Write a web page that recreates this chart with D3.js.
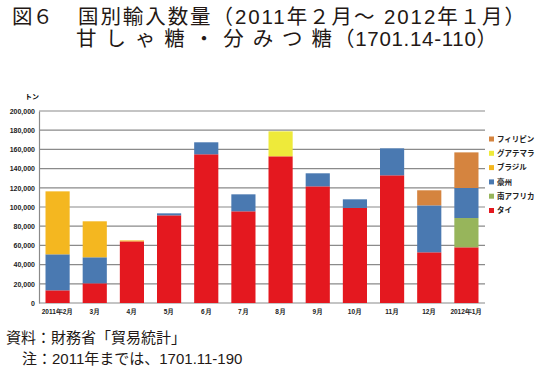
<!DOCTYPE html>
<html>
<head>
<meta charset="utf-8">
<script src="https://cdn.jsdelivr.net/npm/d3@7"></script>
<style>
  body { margin: 0; background: #fff; }
  svg { display: block; font-family: "Noto Sans CJK JP", "Noto Sans", sans-serif; }
  .grid line { stroke: #8a8a8a; stroke-width: 1.2; }
  .tick text { font-size: 7px; font-weight: bold; fill: #222; }
  .title { font-family: "Liberation Sans", "Noto Sans CJK JP", sans-serif; font-size: 20.5px; fill: #231815; }
  .note { font-family: "Liberation Sans", "Noto Sans CJK JP", sans-serif; font-size: 15px; fill: #231815; }
</style>
</head>
<body>
<svg id="chart" width="536" height="376"></svg>
<script>
// months on the x axis
const months = ["2011年2月", "3月", "4月", "5月", "6月", "7月", "8月", "9月", "10月", "11月", "12月", "2012年1月"];

// series (tons), stacked bottom to top
const thai        = [13200, 20500, 64200, 91300, 154900, 95500, 152800, 121500, 99000, 133000, 52800, 58000];
const southAfrica = [0, 0, 0, 0, 0, 0, 0, 0, 0, 0, 0, 30500];
const australia   = [37500, 27100, 0, 2100, 12500, 17700, 0, 13600, 9000, 28100, 48900, 31300];
const brazil      = [65600, 37500, 1000, 0, 0, 0, 0, 0, 0, 0, 0, 0];
const guatemala   = [0, 0, 0, 0, 0, 0, 26000, 0, 0, 0, 0, 0];
const philippines = [0, 0, 0, 0, 0, 0, 0, 0, 0, 0, 15700, 37100];

const seriesNames = ["タイ", "南アフリカ", "豪州", "ブラジル", "グアテマラ", "フィリピン"];
const seriesColors = ["#e4181f", "#97b55b", "#4a79b1", "#f4b720", "#eeea3a", "#d5843f"];
const yTicks = [0, 20000, 40000, 60000, 80000, 100000, 120000, 140000, 160000, 180000, 200000];

const rows = months.map((m, i) => ({
    month: m,
    "タイ": thai[i], "南アフリカ": southAfrica[i], "豪州": australia[i],
    "ブラジル": brazil[i], "グアテマラ": guatemala[i], "フィリピン": philippines[i]
}));

const svg = d3.select("#chart");
const plotLeft = 39, plotRight = 485, plotTop = 111, plotBottom = 303;

const x = d3.scaleBand().domain(months).range([plotLeft, plotRight]).paddingInner(0.35).paddingOuter(0.175);
const y = d3.scaleLinear().domain([0, 200000]).range([plotBottom, plotTop]);
const color = d3.scaleOrdinal().domain(seriesNames).range(seriesColors);

// title, line 1
const t1 = svg.append("text").attr("class", "title").attr("y", 24);
t1.append("tspan").attr("x", 12).text("図６");
t1.append("tspan").attr("x", 78).attr("textLength", 447).attr("lengthAdjust", "spacing")
    .text("国別輸入数量（2011年２月～ 2012年１月）");
// title, line 2 (kanji part is spaced out)
const t2 = svg.append("text").attr("class", "title").attr("y", 46);
t2.append("tspan").attr("x", 76).attr("textLength", 256).attr("lengthAdjust", "spacing")
    .text("甘しゃ糖・分みつ糖");
t2.append("tspan").attr("x", 334).attr("textLength", 163).attr("lengthAdjust", "spacing")
    .text("（1701.14-110）");

// grid
svg.append("g").attr("class", "grid")
    .selectAll("line").data(yTicks).enter()
    .append("line")
    .attr("x1", plotLeft).attr("x2", plotRight)
    .attr("y1", d => y(d)).attr("y2", d => y(d));

// bars
const stack = d3.stack().keys(seriesNames)(rows);
svg.append("g").selectAll("g").data(stack).enter()
    .append("g").attr("fill", d => color(d.key))
    .selectAll("rect").data(d => d).enter()
    .append("rect")
    .attr("x", d => x(d.data.month))
    .attr("width", x.bandwidth())
    .attr("y", d => y(d[1]))
    .attr("height", d => y(d[0]) - y(d[1]));

// axes
const yAxis = svg.append("g").attr("transform", `translate(${plotLeft},0)`)
    .call(d3.axisLeft(y).tickValues(yTicks).tickSize(0).tickPadding(4).tickFormat(d3.format(",")));
yAxis.select(".domain").attr("stroke", "#8a8a8a").attr("stroke-width", 1.2);

const xAxis = svg.append("g").attr("transform", `translate(0,${plotBottom})`)
    .call(d3.axisBottom(x).tickSize(0).tickPadding(6));
xAxis.select(".domain").remove();
xAxis.selectAll(".tick text").style("font-size", "6.5px");

svg.append("text").attr("x", 25).attr("y", 99)
    .style("font-size", "7px").style("font-weight", "bold").text("トン");

// legend
const legend = svg.append("g").selectAll("g").data(seriesNames.slice().reverse()).enter()
    .append("g").attr("transform", (d, i) => `translate(489,${139 + i * 14.3})`);
legend.append("rect").attr("x", 0).attr("y", -2.5).attr("width", 5).attr("height", 5)
    .attr("fill", d => color(d));
legend.append("text").attr("x", 8).attr("y", 0).attr("dy", "0.35em")
    .style("font-size", "7.5px").style("font-weight", "bold").style("fill", "#222")
    .text(d => d);

// notes
svg.append("text").attr("class", "note").attr("x", 6).attr("y", 343)
    .text("資料：財務省「貿易統計」");
svg.append("text").attr("class", "note").attr("x", 22).attr("y", 364)
    .text("注：2011年までは、1701.11-190");
</script>
</body>
</html>
